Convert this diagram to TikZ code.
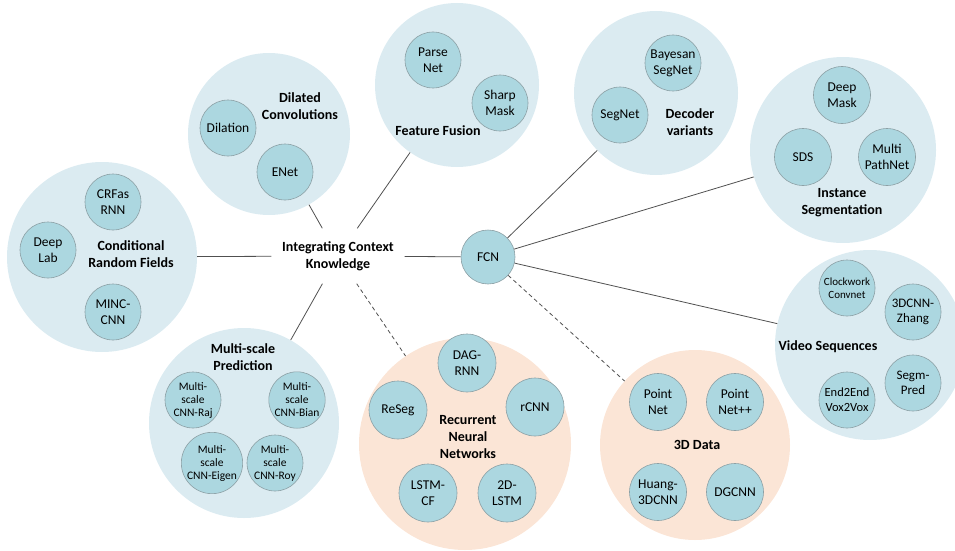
\documentclass[tikz,border=0pt]{standalone}
\usepackage{fontspec}
\setmainfont{Carlito}
\definecolor{bigblue}{RGB}{219,235,241}
\definecolor{smallblue}{RGB}{172,215,224}
\definecolor{circborder}{RGB}{140,160,165}
\definecolor{peach}{RGB}{251,229,214}
\definecolor{linegray}{RGB}{80,80,80}
\begin{document}
\begin{tikzpicture}[x=1pt,y=-1pt,
  bigc/.style={circle, fill=bigblue, inner sep=0pt},
  peachc/.style={circle, fill=peach, inner sep=0pt},
  smallc/.style={circle, fill=smallblue, draw=circborder, line width=0.6pt,
    minimum size=56pt, inner sep=0pt, align=center,
    font=\fontsize{13.5}{16}\selectfont},
  tinytext/.style={font=\fontsize{11.5}{13}\selectfont},
  midtext/.style={font=\fontsize{11}{13}\selectfont},
  lbl/.style={align=center, font=\fontsize{14}{17}\selectfont\bfseries},
  conn/.style={draw=linegray, line width=0.8pt},
  dconn/.style={draw=linegray, line width=0.8pt, dash pattern=on 4pt off 3pt}
]
\useasboundingbox (0,0) rectangle (955,551);

% big circles
\node[bigc, minimum size=190pt] (crf) at (102,257) {};
\node[bigc, minimum size=162pt] (dil) at (269,134) {};
\node[bigc, minimum size=164pt] (ff) at (457,85) {};
\node[bigc, minimum size=164pt] (dec) at (656,93) {};
\node[bigc, minimum size=186pt] (inst) at (843,150) {};
\node[bigc, minimum size=190pt] (vid) at (870,345) {};
\node[bigc, minimum size=190pt] (ms) at (244,423) {};
\node[peachc, minimum size=212pt] (rnn) at (465,444) {};
\node[peachc, minimum size=190pt] (td) at (695,445) {};

% central nodes
\node[rectangle, minimum width=133pt, minimum height=55pt, inner sep=0pt, lbl] (ick) at (338,256) {Integrating Context\\Knowledge};
\node[smallc, minimum size=54pt] (fcn) at (488,257) {FCN};

% connectors
\draw[conn] (ick) -- (crf);
\draw[conn] (ick) -- (dil);
\draw[conn] (ick) -- (ff);
\draw[conn] (ick) -- (ms);
\draw[dconn] (ick) -- (rnn);
\draw[conn] (ick) -- (fcn);
\draw[conn] (fcn) -- (dec);
\draw[conn] (fcn) -- (inst);
\draw[conn] (fcn) -- (vid);
\draw[dconn] (fcn) -- (td);

% CRF
\node[smallc] (crfrnn) at (113,202) {CRFas\\RNN};
\node[smallc] (deeplab) at (48,250) {Deep\\Lab};
\node[smallc] (minc) at (113,312) {MINC-\\CNN};
\node[lbl] (crflbl) at (131,254) {Conditional\\Random Fields};

% Dilated
\node[smallc] (dilation) at (228,128) {Dilation};
\node[smallc] (enet) at (285,172) {ENet};
\node[lbl] (dillbl) at (300,106) {Dilated\\Convolutions};

% Feature fusion
\node[smallc] (parse) at (433,60) {Parse\\Net};
\node[smallc] (sharp) at (500,103) {Sharp\\Mask};
\node[lbl] (fflbl) at (438,131) {Feature Fusion};

% Decoder
\node[smallc] (bayes) at (673,63) {Bayesan\\SegNet};
\node[smallc] (segnet) at (620,115) {SegNet};
\node[lbl] (declbl) at (690,122) {Decoder\\variants};

% Instance
\node[smallc, minimum size=57pt] (deepmask) at (842,95) {Deep\\Mask};
\node[smallc, minimum size=57pt] (sds) at (803,157) {SDS};
\node[smallc, minimum size=57pt] (multipath) at (887,157) {Multi\\PathNet};
\node[lbl] (instlbl) at (842,203) {Instance\\Segmentation};

% Video
\node[smallc, midtext] (clock) at (847,288) {Clockwork\\Convnet};
\node[smallc, font=\fontsize{13}{15.5}\selectfont] (zhang) at (913,312) {3DCNN-\\Zhang};
\node[smallc, font=\fontsize{13}{15.5}\selectfont] (segm) at (913,383) {Segm-\\Pred};
\node[smallc, font=\fontsize{12.5}{15}\selectfont] (e2e) at (847,400) {End2End\\Vox2Vox};
\node[lbl] (vidlbl) at (828,347) {Video Sequences};

% Multi-scale
\node[lbl] (mslbl) at (243,357) {Multi-scale\\Prediction};
\node[smallc, tinytext] (raj) at (193,400) {Multi-\\scale\\CNN-Raj};
\node[smallc, tinytext] (bian) at (297,400) {Multi-\\scale\\CNN-Bian};
\node[smallc, tinytext] (eigen) at (212,463) {Multi-\\scale\\CNN-Eigen};
\node[smallc, tinytext] (roy) at (275,463) {Multi-\\scale\\CNN-Roy};

% RNN
\node[smallc, minimum size=58pt] (dag) at (467,363) {DAG-\\RNN};
\node[smallc, minimum size=58pt] (reseg) at (398,410) {ReSeg};
\node[smallc, minimum size=58pt] (rcnn) at (535,407) {rCNN};
\node[smallc, minimum size=58pt] (lstmcf) at (428,493) {LSTM-\\CF};
\node[smallc, minimum size=58pt] (lstm2d) at (507,493) {2D-\\LSTM};
\node[lbl] (rnnlbl) at (468,437) {Recurrent\\Neural\\Networks};

% 3D
\node[smallc, minimum size=57pt] (pointnet) at (658,402) {Point\\Net};
\node[smallc, minimum size=57pt] (pointnetpp) at (735,402) {Point\\Net++};
\node[smallc, minimum size=57pt] (huang) at (658,492) {Huang-\\3DCNN};
\node[smallc, minimum size=57pt] (dgcnn) at (735,492) {DGCNN};
\node[lbl] (tdlbl) at (697,445) {3D Data};
\end{tikzpicture}
\end{document}
